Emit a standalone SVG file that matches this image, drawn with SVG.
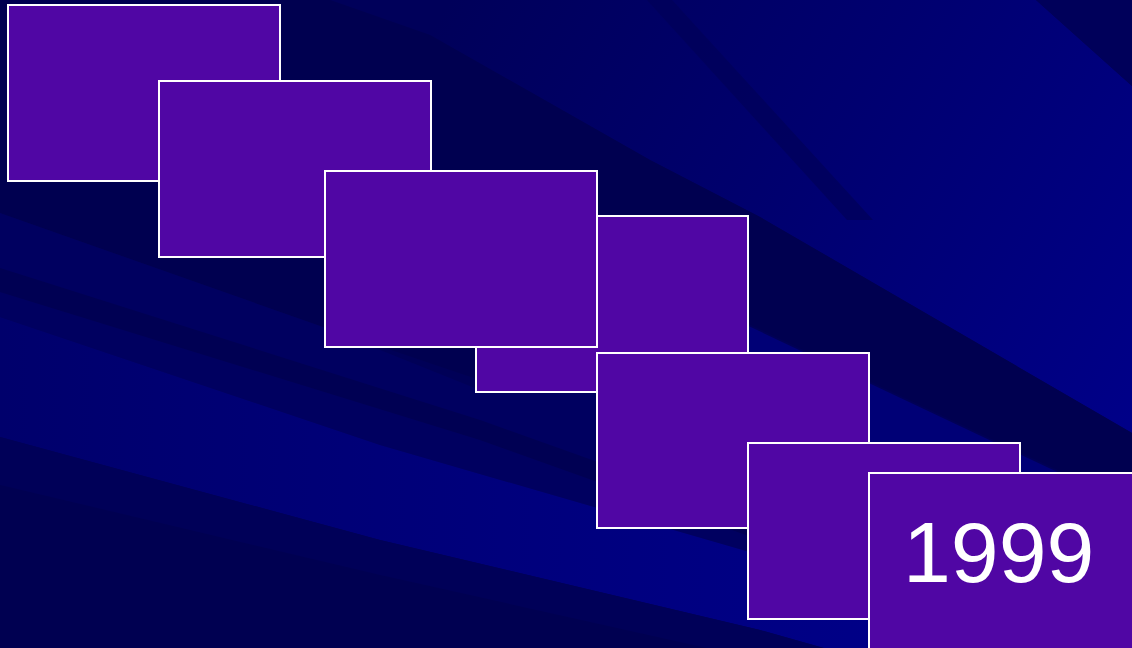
<svg xmlns="http://www.w3.org/2000/svg" width="1132" height="648" viewBox="0 0 1132 648">
<defs>
<style>
.box{fill:#5006A4;stroke:#FFFFFF;stroke-width:2}
.lbl{font-family:"Liberation Sans",Arial,sans-serif;font-size:86px;fill:#FFFFFF}
</style>
<linearGradient id="gB" x1="0" y1="0" x2="1132" y2="0" gradientUnits="userSpaceOnUse">
<stop offset="0" stop-color="#00006C"/>
<stop offset="0.5" stop-color="#00007E"/>
<stop offset="1" stop-color="#00008E"/>
</linearGradient>
<linearGradient id="gR" x1="450" y1="0" x2="1132" y2="420" gradientUnits="userSpaceOnUse">
<stop offset="0" stop-color="#00005A"/>
<stop offset="0.5" stop-color="#000070"/>
<stop offset="1" stop-color="#000088"/>
</linearGradient>
</defs>
<g id="background">
<rect x="0" y="0" width="1132" height="648" fill="#000057"/>
<polygon points="330,0 1036,0 1132,86 1132,433 760,217 650,160 430,35" fill="url(#gR)"/>
<polygon points="647,0 672,0 873,220 847,220" fill="#000058" opacity="0.7"/>
<polygon points="1036,0 1132,0 1132,86" fill="#00005A"/>
<polygon points="0,0 330,0 430,35 650,160 760,217 1132,433 1132,505 1000,443 740,320 600,330 480,380 323,327 0,213" fill="#000050"/>
<polygon points="0,213 323,327 480,390 740,330 1000,450 1132,510 1132,660 760,555 380,445 0,317" fill="#000060"/>
<polygon points="740,322 1000,445 1132,507 1132,640 760,540" fill="#000076"/>
<polygon points="0,268 480,420 760,520 760,540 480,440 0,292" fill="#000053"/>
<polygon points="0,317 380,445 760,555 1132,660 1132,735 760,630 380,540 0,437" fill="url(#gB)"/>
<polygon points="0,437 380,540 760,630 1132,735 1132,648 0,648" fill="#000058"/>
<polygon points="0,485 380,575 760,660 0,648" fill="#000051"/>
</g>
<g id="node1"><rect class="box" x="8" y="5" width="272" height="176"/></g>
<g id="node2"><rect class="box" x="159" y="81" width="272" height="176"/></g>
<g id="node4"><rect class="box" x="476" y="216" width="272" height="176"/></g>
<g id="node3"><rect class="box" x="325" y="171" width="272" height="176"/></g>
<g id="node5"><rect class="box" x="597" y="353" width="272" height="175"/></g>
<g id="node6"><rect class="box" x="748" y="443" width="272" height="176"/></g>
<g id="node7"><rect class="box" x="869" y="473" width="272" height="185"/>
<text class="lbl" x="903" y="582">1999</text></g>
<g id="connectors"/>
</svg>
